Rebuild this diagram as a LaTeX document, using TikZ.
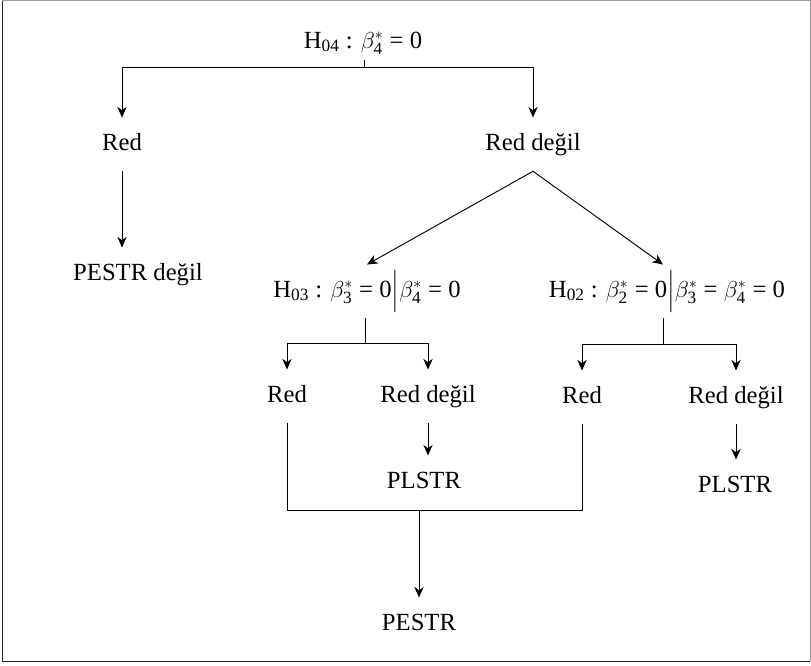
\documentclass[tikz,border=0pt]{standalone}
\usepackage{amsmath}
\usepackage{fontspec}
\setmainfont{Liberation Serif}
\usepackage{tikz}
\usetikzlibrary{arrows.meta}

\begin{document}
\begin{tikzpicture}[x=0.75pt,y=-0.75pt,>={Stealth[length=8pt,width=7pt,inset=2.5pt]},line width=0.7pt,
		lbl/.style={font=\fontsize{18.5}{22}\selectfont,text height=13pt,text depth=4.6pt,
			inner xsep=2pt,inner ysep=11pt,anchor=base}]
		%\draw[help lines] (0,0) grid (811,665);
		\useasboundingbox (0,0) rectangle (811,665);
		\draw[line width=0.8pt,black!40] (2,0.6) -- (810.2,0.6) -- (810.2,661);
		\draw[line width=1.4pt,black!85] (2.5,0.6) -- (2.5,661.5) -- (810.2,661.5);
		% hypotheses
		\node[lbl,inner ysep=4pt] (h04) at (363,48) {H$_{\text{04}}$ : $\beta_{\text{4}}^{*}$ = 0};
		\node[lbl] (h03) at (367,297) {H$_{\text{03}}$ : $\beta_{\text{3}}^{*}$ = 0$\Big|$$\beta_{\text{4}}^{*}$ = 0};
		\node[lbl] (h02) at (667,297) {H$_{\text{02}}$ : $\beta_{\text{2}}^{*}$ = 0$\Big|$$\beta_{\text{3}}^{*}$ = $\beta_{\text{4}}^{*}$ = 0};
		% decisions
		\node[lbl] (red1) at (122,150) {Red};
		\node[lbl] (rd1) at (533,150) {Red değil};
		\node[lbl] (pestrd) at (138,280) {PESTR değil};
		\node[lbl] (red2) at (287,402) {Red};
		\node[lbl] (rd2) at (428,402) {Red değil};
		\node[lbl] (red3) at (582,403) {Red};
		\node[lbl] (rd3) at (736,403) {Red değil};
		\node[lbl] (plstr2) at (424,488) {PLSTR};
		\node[lbl] (plstr3) at (735,492) {PLSTR};
		\node[lbl] (pestr) at (419,630) {PESTR};
		% junctions
		\coordinate (j0) at (364,67);
		\coordinate (j3) at (365,343);
		\coordinate (j2) at (663,344);
		\coordinate (j5) at (419,510);
		% connectors
		\draw (j0 |- h04.south) -- (j0);
		\foreach \n in {red1,rd1} {
			\draw[->] (j0) -| (\n);
		}
		\draw[->] (red1) -- (red1 |- pestrd.north);
		\draw[->] (rd1.south) -- (h03.north);
		\draw[->] (rd1.south) -- (j2 |- h02.north);
		\draw (j3 |- h03.south) -- (j3);
		\draw (j2 |- h02.south) -- (j2);
		\foreach \n in {red2,rd2} {
			\draw[->] (j3) -| (\n);
		}
		\foreach \n in {red3,rd3} {
			\draw[->] (j2) -| (\n);
		}
		\draw[->] (rd2) -- (rd2 |- plstr2.north);
		\draw[->] (rd3) -- (rd3 |- plstr3.north);
		\foreach \n in {red2,red3} {
			\draw (\n) |- (j5);
		}
		\draw[->] (j5) -- (pestr);
\end{tikzpicture}
\end{document}
